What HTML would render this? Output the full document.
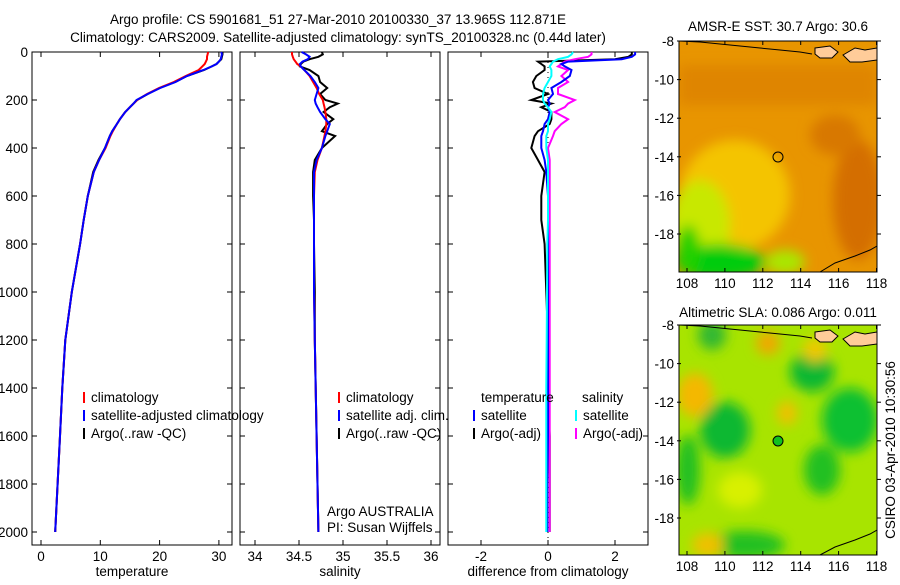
<!DOCTYPE html>
<html><head><meta charset="utf-8"><style>
body{margin:0;background:#fff;}
svg text{font-family:"Liberation Sans",sans-serif;font-size:13.5px;fill:#000;}
</style></head><body>
<svg id="fig" width="900" height="580" xmlns="http://www.w3.org/2000/svg">
<defs>
<filter id="bl" x="-50%" y="-50%" width="200%" height="200%"><feGaussianBlur stdDeviation="6"/></filter>
<clipPath id="c1"><rect x="679" y="41" width="198" height="231"/></clipPath>
<clipPath id="c2"><rect x="679" y="325" width="198" height="230"/></clipPath>
</defs>
<text x="338" y="24" text-anchor="middle">Argo profile: CS 5901681_51 27-Mar-2010 20100330_37 13.965S 112.871E</text>
<text x="338" y="42" text-anchor="middle">Climatology: CARS2009. Satellite-adjusted climatology: synTS_20100328.nc (0.44d later)</text>
<g id="plots"></g>

<!-- SST map -->
<g>
<g clip-path="url(#c1)">
<rect x="679" y="41" width="198" height="231" fill="#e89500"/>
<g filter="url(#bl)">
<rect x="679" y="65" width="198" height="40" fill="#d87a00" opacity="0.6"/>
<ellipse cx="735" cy="195" rx="55" ry="55" fill="#f4c400"/>
<ellipse cx="700" cy="225" rx="30" ry="45" fill="#c8e800"/>
<ellipse cx="720" cy="262" rx="45" ry="18" fill="#00cc10"/>
<ellipse cx="688" cy="250" rx="12" ry="25" fill="#20d000"/>
<ellipse cx="785" cy="262" rx="20" ry="12" fill="#a8e800"/>
<ellipse cx="858" cy="200" rx="25" ry="60" fill="#d46e00"/>
<ellipse cx="835" cy="135" rx="25" ry="20" fill="#d87800"/>
</g>
<polyline points="679,41 700,42 720,44 740,46 760,48 780,50 800,52 812,54" fill="none" stroke="#000"/>
<polygon points="815,48 830,46 838,52 832,58 820,58 815,54" fill="#ffcc99" stroke="#000"/>
<polygon points="843,55 855,48 865,50 877,48 877,60 862,62 850,62" fill="#ffcc99" stroke="#000"/>
<polyline points="820,272 835,263 855,256 870,250 877,246" fill="none" stroke="#000"/>
</g>
<rect x="679" y="41" width="198" height="231" fill="none" stroke="#000"/>
<circle cx="778" cy="157" r="5" fill="none" stroke="#000"/>
</g>
<text x="778" y="31" text-anchor="middle">AMSR-E SST: 30.7 Argo: 30.6</text>

<!-- SLA map -->
<g>
<g clip-path="url(#c2)">
<rect x="679" y="325" width="198" height="230" fill="#a8e400"/>
<g filter="url(#bl)">
<ellipse cx="725" cy="430" rx="25" ry="28" fill="#10b830"/>
<ellipse cx="688" cy="470" rx="12" ry="35" fill="#20c020"/>
<ellipse cx="812" cy="372" rx="22" ry="20" fill="#10b830"/>
<ellipse cx="850" cy="420" rx="28" ry="32" fill="#10c030"/>
<ellipse cx="822" cy="470" rx="18" ry="25" fill="#20c020"/>
<ellipse cx="745" cy="545" rx="40" ry="14" fill="#20c020"/>
<ellipse cx="712" cy="335" rx="14" ry="15" fill="#30b830"/>
<ellipse cx="695" cy="395" rx="18" ry="22" fill="#f4b800"/>
<ellipse cx="768" cy="343" rx="12" ry="12" fill="#f0a800"/>
<ellipse cx="815" cy="350" rx="12" ry="12" fill="#f0c800"/>
<ellipse cx="787" cy="413" rx="10" ry="12" fill="#f0c000"/>
<ellipse cx="708" cy="545" rx="16" ry="12" fill="#f0c000"/>
<ellipse cx="740" cy="490" rx="22" ry="18" fill="#d8f000"/>
</g>
<polyline points="679,325 700,326 720,328 740,330 760,332 780,334 800,336 812,338" fill="none" stroke="#000"/>
<polygon points="815,332 830,330 838,336 832,342 820,342 815,338" fill="#ffcc99" stroke="#000"/>
<polygon points="843,339 855,332 865,334 877,332 877,344 862,346 850,346" fill="#ffcc99" stroke="#000"/>
<polyline points="820,555 835,547 855,540 870,534 877,530" fill="none" stroke="#000"/>
</g>
<rect x="679" y="325" width="198" height="230" fill="none" stroke="#000"/>
<circle cx="778" cy="441" r="5" fill="#10c020" stroke="#000"/>
</g>
<text x="778" y="317" text-anchor="middle">Altimetric SLA: 0.086 Argo: 0.011</text>
<text transform="translate(895,450) rotate(-90)" text-anchor="middle">CSIRO 03-Apr-2010 10:30:56</text>
<g id="maxes"></g>
</svg>
<script>
const depths = [0,10,20,30,40,50,60,75,100,125,150,175,200,215,230,250,280,300,330,350,400,450,500,600,700,800,1000,1200,1400,1600,1800,2000];
const tempArgo = [30.6,30.6,30.5,30.4,30.0,29.6,28.8,27.5,24.6,22.6,20.0,18.0,16.2,15.6,15.0,14.2,13.3,12.8,12.0,11.6,10.8,9.7,8.8,7.9,7.2,6.6,5.2,4.1,3.6,3.2,2.8,2.4];
const tempClim = [28.2,28.1,28.0,28.0,27.8,27.6,27.2,26.6,24.4,22.4,19.9,17.9,16.2,15.6,15.0,14.2,13.3,12.8,12.1,11.7,10.9,9.8,8.9,7.9,7.2,6.6,5.2,4.1,3.6,3.2,2.8,2.4];
const tempSat = [30.4,30.5,30.4,30.3,30.0,29.6,28.8,27.4,24.6,22.7,20.1,18.0,16.1,15.6,15.0,14.2,13.3,12.8,12.0,11.6,10.8,9.8,8.9,7.9,7.2,6.6,5.2,4.1,3.6,3.2,2.8,2.4];
const salArgo = [34.76,34.77,34.72,34.62,34.55,34.52,34.51,34.62,34.72,34.74,34.82,34.74,34.80,34.94,34.85,34.78,34.89,34.82,34.76,34.91,34.76,34.68,34.66,34.66,34.67,34.67,34.68,34.68,34.69,34.70,34.71,34.72];
const salClim = [34.42,34.42,34.43,34.44,34.46,34.48,34.52,34.56,34.62,34.66,34.70,34.73,34.77,34.78,34.79,34.80,34.81,34.81,34.80,34.79,34.76,34.71,34.68,34.67,34.67,34.67,34.67,34.68,34.69,34.70,34.71,34.72];
const salSat = [34.53,34.58,34.62,34.60,34.54,34.51,34.52,34.56,34.63,34.68,34.72,34.70,34.68,34.69,34.71,34.74,34.80,34.85,34.82,34.80,34.76,34.70,34.67,34.67,34.67,34.67,34.67,34.68,34.69,34.70,34.71,34.72];
const dTempSat = [2.6,2.6,2.5,2.2,0.6,0.4,0.5,0.7,0.65,0.4,0.1,0.15,0.0,0.05,0.0,0.05,0.0,-0.1,-0.15,-0.2,-0.2,-0.1,-0.05,0,0,0,0,0,0,0,-0.02,-0.02];
const dTempArgo = [2.5,2.5,2.4,2.0,-0.3,-0.2,-0.1,-0.1,-0.35,-0.45,-0.4,0.0,-0.5,0.1,-0.2,0.1,0.1,0.05,-0.3,-0.4,-0.5,-0.3,-0.1,-0.2,-0.2,-0.1,-0.05,0,0,0.05,0.05,0.05];
const dSalSat = [0.75,0.7,0.6,0.3,0.15,0.1,0.05,0.1,0.1,0.0,-0.1,-0.15,-0.15,-0.1,0.0,0.1,0.05,0.0,0.0,-0.05,-0.05,0,0,0,0,-0.02,-0.03,-0.04,-0.05,-0.05,-0.05,-0.05];
const dSalArgo = [1.3,1.3,1.2,0.8,0.5,0.4,0.3,0.6,0.4,0.6,0.3,0.3,0.8,0.6,0.5,0.2,0.6,0.4,0.2,0.15,0.0,0.05,0.05,0.05,0.05,0.05,0.05,0.05,0.05,0.05,0.05,0.05];
const depthTicks = [0,200,400,600,800,1000,1200,1400,1600,1800,2000];
const tempTicks = [0,10,20,30];
const salTicks = [34,34.5,35,35.5,36];
const salTickLabels = ["34","34.5","35","35.5","36"];
const diffTicks = [-2,0,2];
const lonTicks = [108,110,112,114,116,118];
const latTicks = [-8,-10,-12,-14,-16,-18];

const NS="http://www.w3.org/2000/svg";
const plots=document.getElementById('plots');
function mk(tag,attrs,parent){const e=document.createElementNS(NS,tag);for(const k in attrs)e.setAttribute(k,attrs[k]);(parent||plots).appendChild(e);return e;}
const yD = d => 52 + d*0.24;
const panels=[
 {x0:32,x1:232,f:v=>41+v*5.93,ticks:tempTicks,labels:tempTicks.map(String),title:"temperature"},
 {x0:240,x1:440,f:v=>255+(v-34)*88,ticks:salTicks,labels:salTickLabels,title:"salinity"},
 {x0:448,x1:648,f:v=>548+v*33.5,ticks:diffTicks,labels:diffTicks.map(String),title:"difference from climatology"}
];
panels.forEach((p,i)=>{
 const r=mk('rect',{x:p.x0,y:52,width:p.x1-p.x0,height:493,fill:'none',stroke:'#000'});
 
 
 p.ticks.forEach((t,j)=>{
  const x=p.f(t);
  mk('line',{x1:x,x2:x,y1:545,y2:540,stroke:'#000'});
  mk('line',{x1:x,x2:x,y1:52,y2:57,stroke:'#000'});
  const tx=mk('text',{x:x,y:561,'text-anchor':'middle'});tx.textContent=p.labels[j];
  
  
 });
 depthTicks.forEach(d=>{
  mk('line',{x1:p.x0,x2:p.x0+5,y1:yD(d),y2:yD(d),stroke:'#000'});
  mk('line',{x1:p.x1,x2:p.x1-5,y1:yD(d),y2:yD(d),stroke:'#000'});
 });
 const xt=mk('text',{x:(p.x0+p.x1)/2,y:576,'text-anchor':'middle'});xt.textContent=p.title;
 
 
});
depthTicks.forEach(d=>{
 const t=mk('text',{x:28,y:yD(d)+5,'text-anchor':'end'});t.textContent=String(d);
 
 
});
mk('line',{x1:548,x2:548,y1:52,y2:545,stroke:'#000','stroke-dasharray':'1,4'});
function line(vals,f,color,name){
 const pts=vals.map((v,k)=>f(v).toFixed(1)+','+yD(depths[k]).toFixed(1)).join(' ');
 const l=mk('polyline',{points:pts,fill:'none',stroke:color,'stroke-width':2});
 
 
}
line(tempArgo,panels[0].f,'#000','temp-argo-line');
line(tempClim,panels[0].f,'#f00','temp-climatology-line');
line(tempSat,panels[0].f,'#00f','temp-satellite-line');
line(salArgo,panels[1].f,'#000','sal-argo-line');
line(salClim,panels[1].f,'#f00','sal-climatology-line');
line(salSat,panels[1].f,'#00f','sal-satellite-line');
line(dTempArgo,panels[2].f,'#000','diff-temp-argo-line');
line(dSalArgo,panels[2].f,'#f0f','diff-sal-argo-line');
line(dTempSat,panels[2].f,'#00f','diff-temp-satellite-line');
line(dSalSat,panels[2].f,'#0ff','diff-sal-satellite-line');
function leg(x,y,color,txt,name){
 mk('line',{x1:x,x2:x,y1:y-10,y2:y+1,stroke:color,'stroke-width':2});
 const t=mk('text',{x:x+7,y:y});t.textContent=txt;
 
 
}
leg(84,402,'#f00','climatology','legend-climatology');
leg(84,420,'#00f','satellite-adjusted climatology','legend-satellite-adjusted');
leg(84,438,'#000','Argo(..raw -QC)','legend-argo');
leg(339,402,'#f00','climatology','legend-sal-climatology');
leg(339,420,'#00f','satellite adj. clim.','legend-sal-satellite');
leg(339,438,'#000','Argo(..raw -QC)','legend-sal-argo');
const lt=mk('text',{x:481,y:402});lt.textContent='temperature';


leg(474,420,'#00f','satellite','legend-diff-temp-satellite');
leg(474,438,'#000','Argo(-adj)','legend-diff-temp-argo');
const ls=mk('text',{x:582,y:402});ls.textContent='salinity';


leg(576,420,'#0ff','satellite','legend-diff-sal-satellite');
leg(576,438,'#f0f','Argo(-adj)','legend-diff-sal-argo');
const a1=mk('text',{x:327,y:516});a1.textContent='Argo AUSTRALIA';


const a2=mk('text',{x:327,y:532});a2.textContent='PI: Susan Wijffels';


const maxes=document.getElementById('maxes');
[[41,272],[325,555]].forEach(([top,bot],m)=>{
 lonTicks.forEach(lo=>{
  const x=687+(lo-108)*18.95;
  mk('line',{x1:x,x2:x,y1:bot,y2:bot-4,stroke:'#000'},maxes);
  mk('line',{x1:x,x2:x,y1:top,y2:top+4,stroke:'#000'},maxes);
  const t=mk('text',{x:x,y:bot+16,'text-anchor':'middle'},maxes);t.textContent=String(lo);
  
  
 });
 latTicks.forEach(la=>{
  const y=top+(-8-la)*19.3;
  mk('line',{x1:677,x2:681,y1:y,y2:y,stroke:'#000'},maxes);
  mk('line',{x1:877,x2:881,y1:y,y2:y,stroke:'#000'},maxes);
  const t=mk('text',{x:674,y:y+5,'text-anchor':'end'},maxes);t.textContent=String(la);
  
  
 });
});
</script>
</body></html>
